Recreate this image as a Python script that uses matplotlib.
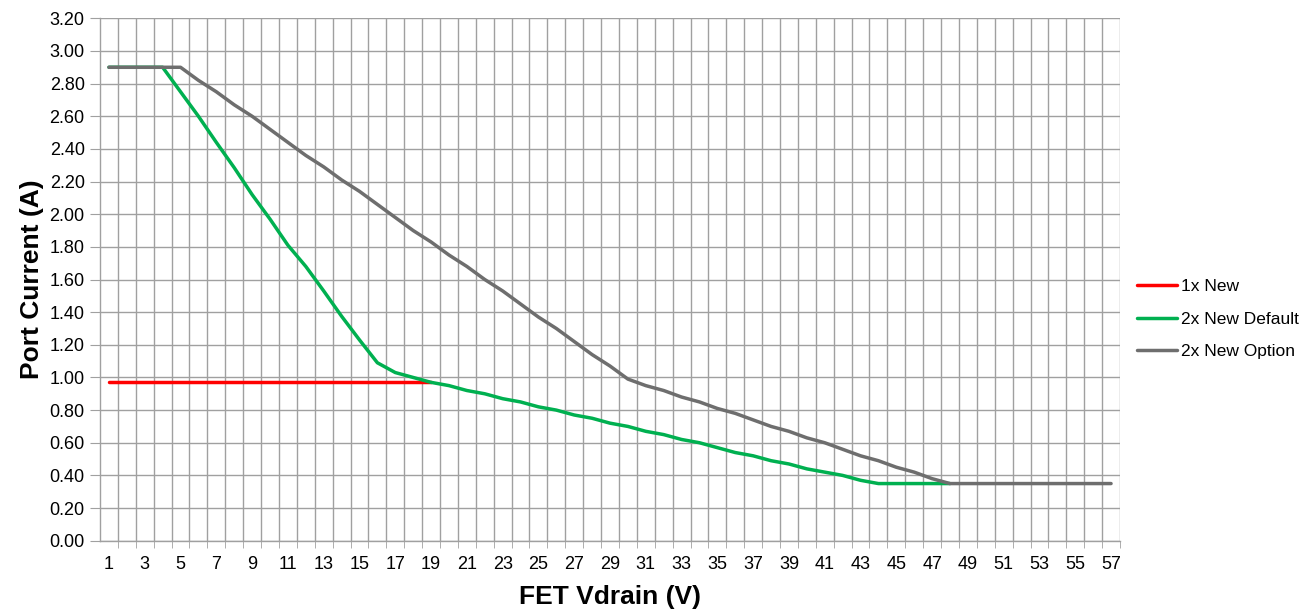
import numpy as np
import matplotlib.pyplot as plt

plt.rcParams['font.family'] = ['Liberation Sans', 'DejaVu Sans']

# FET Vdrain categories (V)
vdrain = list(range(1, 58))

# 1x New: flat up to where it meets the 2x default curve
one_x_v = list(range(1, 20))
one_x_i = [0.975] * 19

# 2x New Default
two_def_v = list(range(1, 49))
two_def_i = [2.90, 2.90, 2.90, 2.90, 2.75, 2.60, 2.44, 2.285, 2.12, 1.97,
             1.81, 1.68, 1.53, 1.375, 1.23, 1.09, 1.03, 1.00, 0.97, 0.95,
             0.92, 0.90, 0.87, 0.85, 0.82, 0.80, 0.77, 0.75, 0.72, 0.70,
             0.67, 0.65, 0.62, 0.60, 0.57, 0.54, 0.52, 0.49, 0.47, 0.44,
             0.42, 0.40, 0.37, 0.35, 0.35, 0.35, 0.35, 0.35]

# 2x New Option
two_opt_v = list(range(1, 58))
two_opt_i = [2.90, 2.90, 2.90, 2.90, 2.90, 2.82, 2.75, 2.67, 2.60, 2.52,
             2.44, 2.36, 2.29, 2.21, 2.14, 2.06, 1.98, 1.90, 1.83, 1.75,
             1.68, 1.60, 1.53, 1.45, 1.37, 1.30, 1.22, 1.14, 1.07, 0.99,
             0.95, 0.92, 0.88, 0.85, 0.81, 0.78, 0.74, 0.70, 0.67, 0.63,
             0.60, 0.56, 0.52, 0.49, 0.45, 0.42, 0.38, 0.35, 0.35, 0.35,
             0.35, 0.35, 0.35, 0.35, 0.35, 0.35, 0.35]

fig = plt.figure(figsize=(13.15, 6.11), dpi=100)
ax = fig.add_axes([100 / 1315, 1 - 540.7 / 611, 1020 / 1315, 522.4 / 611])

grid_c = '#A0A0A0'
ax.plot(one_x_v, one_x_i, color='#FF0000', lw=2.5, label='1x New', solid_capstyle='round')
ax.plot(two_def_v, two_def_i, color='#00B050', lw=2.5, label='2x New Default', solid_capstyle='round')
ax.plot(two_opt_v, two_opt_i, color='#6E6E6E', lw=2.5, label='2x New Option', solid_capstyle='round')

ax.set_xlim(0.5, 57.5)
ax.set_ylim(0, 3.2)

ax.set_xticks(vdrain[::2])
ax.set_xticklabels([str(v) for v in vdrain[::2]])
ax.set_xticks(np.arange(1.5, 58, 1.0), minor=True)
ax.tick_params(axis='x', which='major', length=0, pad=11, labelsize=13)
ax.tick_params(axis='x', which='minor', length=5, color=grid_c, direction='out')

yt = np.arange(0, 3.21, 0.2)
ax.set_yticks(yt)
ax.set_yticklabels(['%.2f' % v for v in yt])
ax.tick_params(axis='y', length=7, color=grid_c, pad=4, labelsize=13)

ax.grid(True, which='minor', axis='x', color=grid_c, lw=1)
ax.grid(True, which='major', axis='y', color=grid_c, lw=1)
ax.set_axisbelow(True)

for s in ['top', 'right']:
    ax.spines[s].set_visible(False)
for s in ['left', 'bottom']:
    ax.spines[s].set_color(grid_c)
    ax.spines[s].set_linewidth(1)

ax.set_xlabel('FET Vdrain (V)', fontsize=19, fontweight='bold', labelpad=9)
ax.set_ylabel('Port Current (A)', fontsize=19, fontweight='bold', labelpad=4)

fig.legend(loc='center left', bbox_to_anchor=(1121 / 1315, 1 - 319 / 611),
           frameon=False, fontsize=12.5, handlelength=2.3, handletextpad=0.25,
           labelspacing=1.0)

fig.savefig('out.png', dpi=100)
